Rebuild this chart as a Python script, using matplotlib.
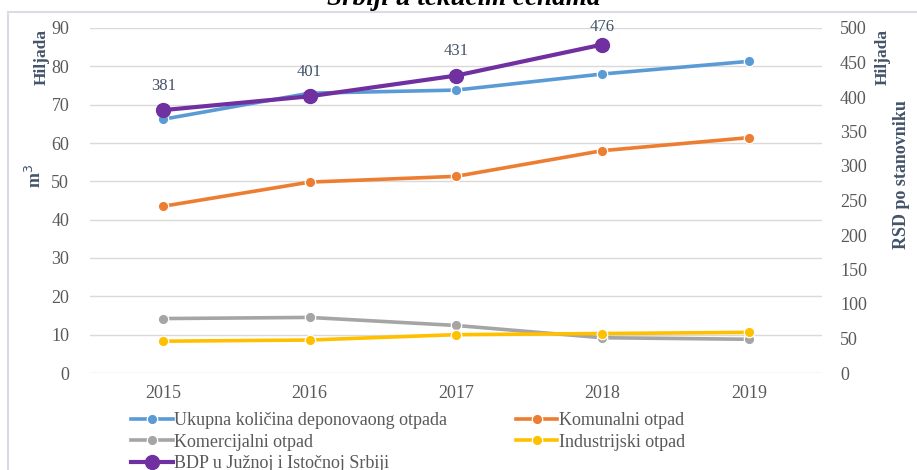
import numpy as np
import matplotlib
matplotlib.use("Agg")
import matplotlib.pyplot as plt
from matplotlib.patches import Rectangle

plt.rcParams['font.family'] = ['Liberation Serif', 'DejaVu Serif']

years = ['2015', '2016', '2017', '2018', '2019']
ukupna = [66.2, 73.0, 73.8, 78.0, 81.3]
komunalni = [43.5, 49.8, 51.3, 58.0, 61.4]
komercijalni = [14.2, 14.5, 12.4, 9.2, 8.8]
industrijski = [8.3, 8.6, 10.0, 10.3, 10.6]
bdp_years = ['2015', '2016', '2017', '2018']
bdp = [381, 401, 431, 476]

c_blue = '#5B9BD5'
c_orange = '#ED7D31'
c_gray = '#A5A5A5'
c_yellow = '#FFC000'
c_purple = '#7030A0'
txt = '#44546A'
tick_c = '#595959'

fig = plt.figure(figsize=(9.17, 4.70), dpi=100)

# outer chart frame, right and bottom edges fall outside the crop
fig.patches.append(Rectangle((8 / 917, -0.2), 1.2, 1.2 - 12 / 470,
                             transform=fig.transFigure, fill=False,
                             edgecolor='#D9DDE3', lw=1.5))

fig.text(464 / 917, 1 - 5 / 470, 'Srbiji u tekućim cenama', ha='center', va='baseline',
         fontsize=19.5, fontweight='bold', fontstyle='italic', color='black')

ax = fig.add_axes([90 / 917, 1 - 373 / 470, 732 / 917, 345 / 470])
ax2 = ax.twinx()

x = np.arange(len(years))
xb = np.arange(len(bdp_years))

mk = dict(marker='o', markersize=7.5, markeredgecolor='white', markeredgewidth=0.9)
h1, = ax.plot(x, ukupna, color=c_blue, lw=2.6, label='Ukupna količina deponovaong otpada', **mk)
h2, = ax.plot(x, komunalni, color=c_orange, lw=2.6, label='Komunalni otpad', **mk)
h3, = ax.plot(x, komercijalni, color=c_gray, lw=2.6, label='Komercijalni otpad', **mk)
h4, = ax.plot(x, industrijski, color=c_yellow, lw=2.6, label='Industrijski otpad', **mk)
h5, = ax2.plot(xb, bdp, color=c_purple, lw=3, marker='o', markersize=10,
               label='BDP u Južnoj i Istočnoj Srbiji')

# labels sit ~24 px above the point, kept inside the plot top
for xi, v in zip(xb, bdp):
    ax2.annotate(str(v), (xi, v), xytext=(xi, min(v + 35, 501)), textcoords='data',
                 ha='center', va='center', fontsize=12, color=txt, annotation_clip=False)

ax.set_xlim(-0.5, len(years) - 0.5)
ax.set_ylim(0, 90)
ax2.set_ylim(0, 500)
ax.set_yticks(np.arange(0, 91, 10))
ax2.set_yticks(np.arange(0, 501, 50))
ax.set_xticks(x)
ax.set_xticklabels(years)

ax.grid(axis='y', color='#D9D9D9', lw=1)
ax.set_axisbelow(True)
ax2.set_zorder(ax.get_zorder() + 1)
ax2.patch.set_visible(False)
for a in (ax, ax2):
    for s in a.spines.values():
        s.set_visible(False)
    a.tick_params(length=0, labelsize=13, colors=tick_c)
ax.tick_params(axis='y', pad=15)
ax2.tick_params(axis='y', pad=13)
ax.tick_params(axis='x', pad=9)

fig.text(42 / 917, 1 - 57 / 470, 'Hiljada', rotation=90, ha='center', va='center',
         fontsize=12.5, fontweight='bold', color=txt)
fig.text(35 / 917, 1 - 176 / 470, 'm$^3$', rotation=90, ha='center', va='center',
         fontsize=13, fontweight='bold', color=txt)
fig.text(883 / 917, 1 - 57 / 470, 'Hiljada', rotation=90, ha='center', va='center',
         fontsize=12.5, fontweight='bold', color=txt)
fig.text(902 / 917, 1 - 175 / 470, 'RSD po stanovniku', rotation=90, ha='center', va='center',
         fontsize=13, fontweight='bold', color=txt)

leg = fig.legend([h1, h3, h5, h2, h4],
                 [h.get_label() for h in (h1, h3, h5, h2, h4)],
                 ncol=2, loc='upper left', bbox_to_anchor=(131 / 917, 1 - 412 / 470),
                 frameon=False, fontsize=13, handlelength=2.3, handletextpad=0.1,
                 columnspacing=3.8, labelspacing=0.25, borderaxespad=0, borderpad=0)
for t in leg.get_texts():
    t.set_color(tick_c)

fig.savefig('out.png', dpi=100)
